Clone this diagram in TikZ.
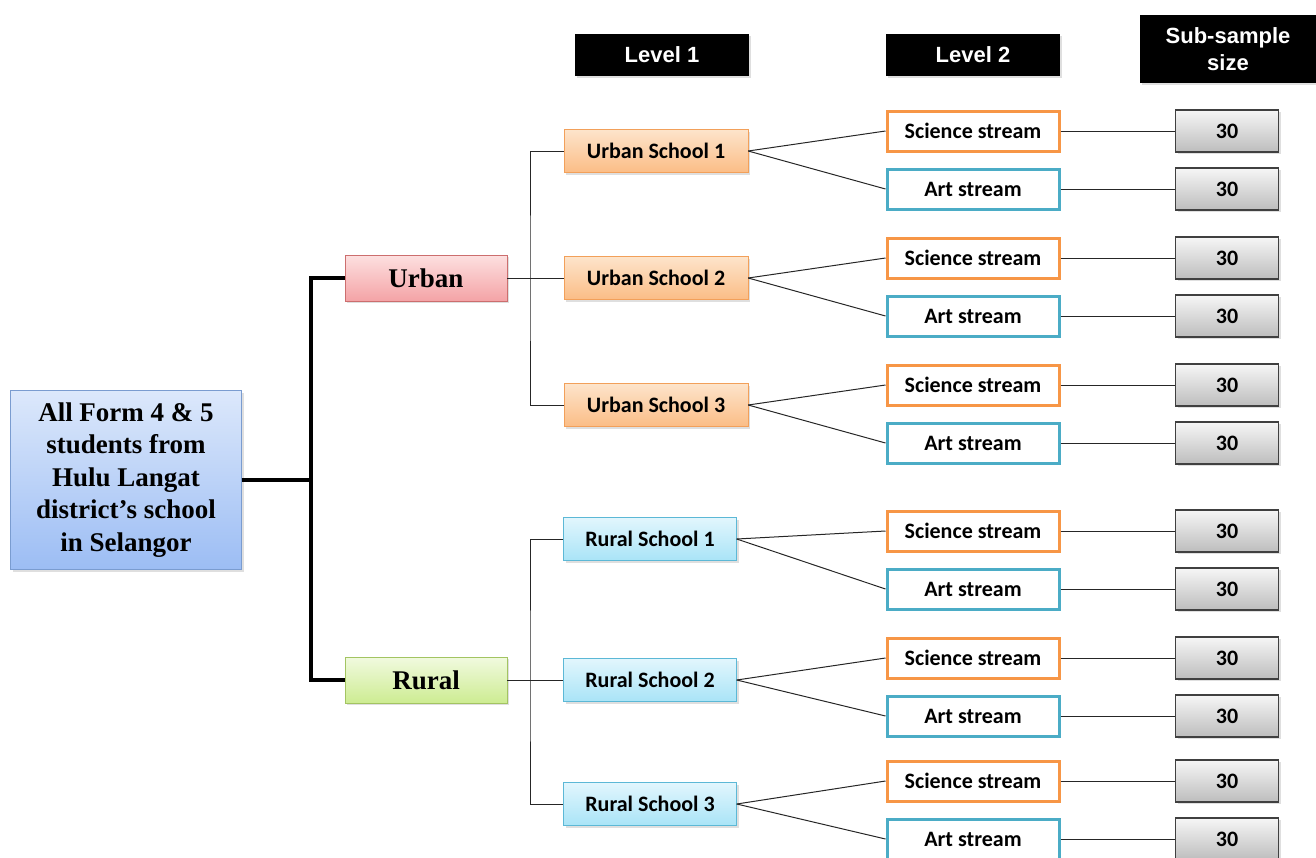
\documentclass[tikz,border=0pt]{standalone}
\usepackage{fontspec}
\setmainfont{Liberation Serif}
\newfontfamily\calfont{Carlito}
\newfontfamily\headfont{Liberation Sans}
\usetikzlibrary{shadows}

\definecolor{mainTop}{HTML}{DCE8FB}
\definecolor{mainBot}{HTML}{9CBDF4}
\definecolor{mainLine}{HTML}{7A9CD0}
\definecolor{urbTop}{HTML}{FDE0E0}
\definecolor{urbBot}{HTML}{F4A3A6}
\definecolor{urbLine}{HTML}{CC6E6E}
\definecolor{rurTop}{HTML}{F1FADF}
\definecolor{rurBot}{HTML}{CDEC92}
\definecolor{rurLine}{HTML}{A3C462}
\definecolor{usTop}{HTML}{FDE4CB}
\definecolor{usBot}{HTML}{FBBD86}
\definecolor{usLine}{HTML}{F2A05A}
\definecolor{rsTop}{HTML}{E2F6FD}
\definecolor{rsBot}{HTML}{A9E4F7}
\definecolor{rsLine}{HTML}{5CB8D6}
\definecolor{sciLine}{HTML}{F79646}
\definecolor{artLine}{HTML}{4BACC6}
\definecolor{numTop}{HTML}{F6F6F6}
\definecolor{numBot}{HTML}{BDBDBD}

\tikzset{
  box/.style={rectangle, align=center, inner sep=2pt,
    drop shadow={opacity=0.25, shadow xshift=2pt, shadow yshift=-2pt}},
  mainbox/.style={box, draw=mainLine, top color=mainTop, bottom color=mainBot,
    minimum width=231pt, minimum height=179pt,
    font=\fontsize{27}{32.5}\selectfont\bfseries},
  areabox/.style={box, minimum width=162pt, minimum height=46pt,
    font=\fontsize{27}{30}\selectfont\bfseries},
  schoolbox/.style={box, minimum height=43pt, font=\calfont\fontsize{22}{24}\selectfont\bfseries},
  streambox/.style={box, fill=white, line width=3pt, minimum width=172pt, minimum height=40pt,
    font=\calfont\fontsize{22}{24}\selectfont\bfseries},
  numbox/.style={box, draw=black!75, line width=1.2pt, top color=numTop, bottom color=numBot,
    minimum width=103pt, minimum height=42pt, font=\calfont\fontsize{22}{24}\selectfont\bfseries},
  headbox/.style={box, fill=black, text=white, minimum width=174pt, minimum height=42pt,
    font=\headfont\fontsize{22}{27}\selectfont\bfseries},
  trunk/.style={line width=3.5pt, line join=miter},
  twig/.style={line width=1pt, black!85}
}

\begin{document}
\begin{tikzpicture}[x=1pt, y=-1pt]
    % Page size
    \clip (0,0) rectangle (1316,857);
    \useasboundingbox (0,0) rectangle (1316,857);

    % Column headings
    \node[headbox] (lev1) at (662,55) {Level 1};
    \node[headbox] (lev2) at (973,55) {Level 2};
    \node[headbox, minimum width=176pt, minimum height=68pt] (subs) at (1228,49) {Sub-sample\\size};

    % Population and areas
    \node[mainbox] (all) at (126,480) {All Form 4 \& 5\\students from\\Hulu Langat\\district's school\\in Selangor};
    \node[areabox, draw=urbLine, top color=urbTop, bottom color=urbBot] (urban) at (426,278) {Urban};
    \node[areabox, draw=rurLine, top color=rurTop, bottom color=rurBot] (rural) at (426,680) {Rural};

    % Level 1 schools
    \node[schoolbox, minimum width=184pt, draw=usLine, top color=usTop, bottom color=usBot] (us1) at (656,151) {Urban School 1};
    \node[schoolbox, minimum width=184pt, draw=usLine, top color=usTop, bottom color=usBot] (us2) at (656,278) {Urban School 2};
    \node[schoolbox, minimum width=184pt, draw=usLine, top color=usTop, bottom color=usBot] (us3) at (656,405) {Urban School 3};
    \node[schoolbox, minimum width=173pt, draw=rsLine, top color=rsTop, bottom color=rsBot] (rs1) at (650,539) {Rural School 1};
    \node[schoolbox, minimum width=173pt, draw=rsLine, top color=rsTop, bottom color=rsBot] (rs2) at (650,680) {Rural School 2};
    \node[schoolbox, minimum width=173pt, draw=rsLine, top color=rsTop, bottom color=rsBot] (rs3) at (650,804) {Rural School 3};

    % Thick branches
    \coordinate (split) at (311,480);
    \draw[trunk] (all.east) -- (split);
    \draw[trunk] (urban.west) -| (split) |- (rural.west);

    % Thin branches to schools
    \coordinate (ufork) at (530,278);
    \coordinate (rfork) at (530,680);
    \draw[twig] (urban.east) -- (us2.west);
    \draw[twig] (us1.west) -| (ufork) |- (us3.west);
    \draw[twig] (rural.east) -- (rs2.west);
    \draw[twig] (rs1.west) -| (rfork) |- (rs3.west);

    % Level 2 streams and sample sizes
    \foreach \sch/\ys/\ya [count=\i] in {us1/131/189, us2/258/316, us3/385/443,
                                         rs1/531/589, rs2/658/716, rs3/781/839} {
        \node[streambox, draw=sciLine] (sci\i) at (973,\ys) {Science stream};
        \node[streambox, draw=artLine] (art\i) at (973,\ya) {Art stream};
        \node[numbox] (nsci\i) at (1227,\ys) {30};
        \node[numbox] (nart\i) at (1227,\ya) {30};
        \draw[twig] (\sch.east) -- (sci\i.west);
        \draw[twig] (\sch.east) -- (art\i.west);
        \draw[twig] (sci\i.east) -- (nsci\i.west);
        \draw[twig] (art\i.east) -- (nart\i.west);
    }
\end{tikzpicture}
\end{document}
